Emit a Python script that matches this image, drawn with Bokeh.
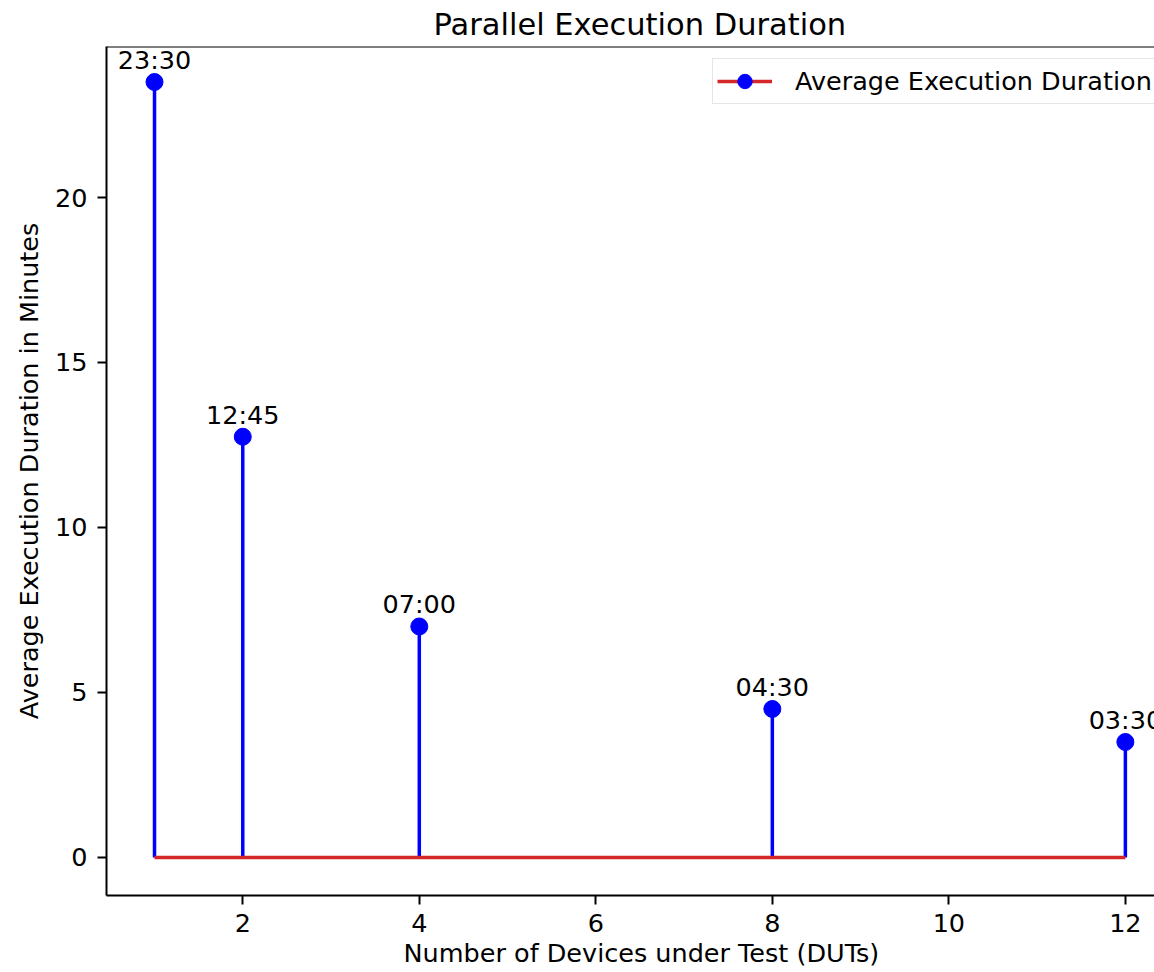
from bokeh.plotting import figure
from bokeh.models import (Range1d, LabelSet, ColumnDataSource, Legend, LegendItem,
                          FixedTicker, Title, Span)
from bokeh.core.properties import value
from bokeh.embed import file_html
from bokeh.resources import INLINE

# ---- data ----
duts = [1, 2, 4, 8, 12]
minutes = [23.5, 12.75, 7.0, 4.5, 3.5]
duration_labels = ["23:30", "12:45", "07:00", "04:30", "03:30"]
x_ticks = [2, 4, 6, 8, 10, 12]
y_ticks = [0, 5, 10, 15, 20]

FONT = "DejaVu Sans"
FS = "25.5px"
Y0, Y1 = -1.152, 24.576

p = figure(width=1154, height=972, output_backend="svg", toolbar_location=None,
           x_range=Range1d(0.456, 12.33), y_range=Range1d(Y0, Y1))
p.min_border_left = 106
p.min_border_right = 0
p.min_border_top = 46
p.min_border_bottom = 77

# The full axes box extends beyond the visible right edge, so the title and the
# x label are centred on the full box (left-aligned with an offset here).
p.title = Title(text="Parallel Execution Duration", align="left", offset=327,
                vertical_align="top",
                text_font=FONT, text_font_size="30.5px", text_font_style="normal",
                text_color="black", standoff=6)

src = ColumnDataSource(dict(x=duts, y=minutes, y0=[0] * len(duts), lab=duration_labels))

p.segment(x0="x", y0="y0", x1="x", y1="y", source=src, line_color="blue", line_width=3.5)
base = p.line(x=[min(duts), max(duts)], y=[0, 0], line_color="#d62728", line_width=3.5)
pts = p.scatter(x="x", y="y", source=src, size=17, fill_color="blue", line_color="blue")

labels = LabelSet(x="x", y="y", text="lab", source=src, text_align="center",
                  text_baseline="alphabetic", y_offset=13, text_font=value(FONT),
                  text_font_size=FS, text_color="black")
p.add_layout(labels)

legend = Legend(items=[LegendItem(label="Average Execution Duration", renderers=[base, pts])],
                location=(606, 791), label_text_font=FONT, label_text_font_size=FS,
                label_text_color="black",
                glyph_width=55, glyph_height=36, label_standoff=23, padding=4,
                border_line_color="#cccccc", border_line_width=1.5,
                background_fill_color="white", background_fill_alpha=0.8,
                spacing=0, margin=0)
p.add_layout(legend)

p.xgrid.visible = False
p.ygrid.visible = False
p.xaxis.ticker = FixedTicker(ticks=x_ticks)
p.yaxis.ticker = FixedTicker(ticks=y_ticks)
for ax in (p.xaxis[0], p.yaxis[0]):
    ax.minor_tick_line_color = None
    ax.major_tick_in = 0
    ax.major_tick_out = 9
    ax.major_tick_line_width = 2
    ax.major_tick_line_color = "black"
    ax.axis_line_width = 2
    ax.axis_line_color = "black"
    ax.major_label_text_font = FONT
    ax.major_label_text_font_size = FS
    ax.major_label_text_color = "black"
    ax.axis_label_text_font = FONT
    ax.axis_label_text_font_size = FS
    ax.axis_label_text_font_style = "normal"
    ax.axis_label_text_color = "black"
p.yaxis.axis_label = "Average Execution Duration in Minutes"
p.xaxis.major_label_standoff = 9
p.yaxis.major_label_standoff = 10
p.yaxis.axis_label_standoff = 8

p.add_layout(Title(text="Number of Devices under Test (DUTs)", align="left", offset=297,
                   text_font=FONT, text_font_size=FS, text_font_style="normal",
                   text_color="black", standoff=2), "below")

# top spine (the right spine lies beyond the visible area)
p.outline_line_color = None
p.add_layout(Span(location=Y1, dimension="width", line_color="black", line_width=2))

open("out.html", "w").write(file_html(p, INLINE))
